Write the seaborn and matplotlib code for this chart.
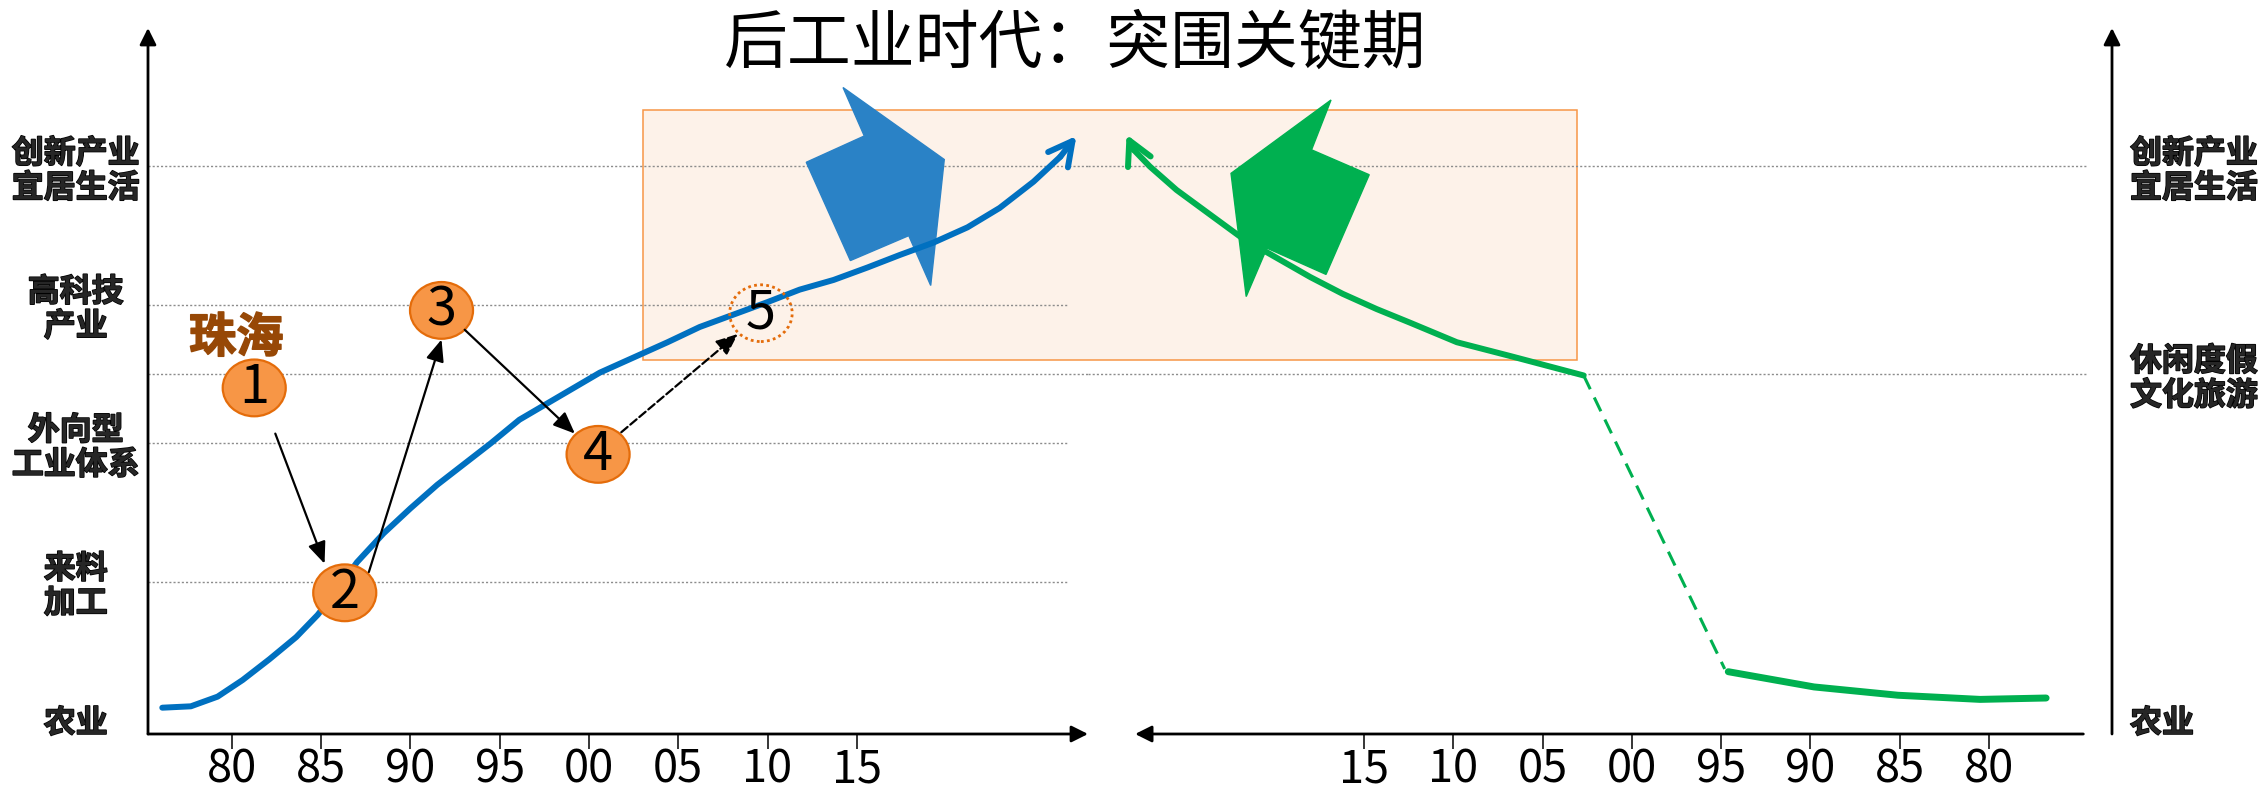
import numpy as np
import pandas as pd
import matplotlib
matplotlib.use('Agg')
import matplotlib.pyplot as plt
import matplotlib.patheffects as pe
import seaborn as sns
from matplotlib.patches import Ellipse, Rectangle

# ---- data ----
# 纵轴层级（左：珠海，右：对照城市）
left_levels = [0, 1, 2, 3, 4]
left_level_labels = ['农业', '来料\n加工', '外向型\n工业体系', '高科技\n产业', '创新产业\n宜居生活']
right_levels = [0, 2.5, 4]
right_level_labels = ['农业', '休闲度假\n文化旅游', '创新产业\n宜居生活']

left_years = [1980, 1985, 1990, 1995, 2000, 2005, 2010, 2015]
right_years = [2015, 2010, 2005, 2000, 1995, 1990, 1985, 1980]
year_labels = ['80', '85', '90', '95', '00', '05', '10', '15']
right_year_labels = ['15', '10', '05', '00', '95', '90', '85', '80']

# 蓝色曲线（珠海）
blue_years = [1976.1, 1977.7, 1979.2, 1980.6, 1982.1, 1983.6, 1984.8, 1985.9, 1987.0, 1988.5,
              1990.0, 1991.5, 1992.9, 1994.5, 1996.1, 2000.6, 2002.5, 2004.4, 2006.2, 2008.1,
              2010.0, 2011.8, 2013.7, 2015.6, 2017.4, 2019.3, 2021.2, 2023.0, 2024.9, 2026.4, 2027.3]
blue_levels = [0.09, 0.10, 0.17, 0.29, 0.44, 0.60, 0.76, 0.94, 1.14, 1.35,
               1.53, 1.70, 1.84, 2.00, 2.17, 2.51, 2.62, 2.73, 2.84, 2.93,
               3.02, 3.11, 3.18, 3.27, 3.36, 3.45, 3.56, 3.70, 3.89, 4.07, 4.22]

# 绿色曲线（右侧，年份向左递增）
green_years = [2028.3, 2027.9, 2027.0, 2025.5, 2023.6, 2021.8, 2019.9, 2018.0, 2016.2,
               2014.3, 2012.4, 2009.8, 2006.8, 2002.7]
green_levels = [4.23, 4.12, 4.00, 3.83, 3.65, 3.48, 3.34, 3.20, 3.08,
                2.97, 2.87, 2.73, 2.63, 2.49]
green_gap_years = [2002.7, 1994.8]
green_gap_levels = [2.49, 0.37]
green_low_years = [1994.6, 1989.8, 1985.1, 1980.5, 1976.8]
green_low_levels = [0.35, 0.24, 0.18, 0.15, 0.16]

# 阶段圆圈 1-5
stage_nums = ['1', '2', '3', '4', '5']
stage_years = [1981.25, 1986.32, 1991.74, 2000.51, 2009.63]
stage_levels = [2.40, 0.92, 2.96, 1.92, 2.94]

# 阶段之间的箭头 (起点年份, 起点层级, 终点年份, 终点层级)
step_from_years = [1982.43, 1987.67, 1993.04, 2001.81]
step_from_levels = [2.07, 1.07, 2.82, 2.08]
step_to_years = [1985.19, 1991.74, 1999.21, 2008.34]
step_to_levels = [1.13, 2.75, 2.07, 2.79]

# 大箭头形状
blue_shape_years = [2014.23, 2019.90, 2019.14, 2017.91, 2014.64, 2012.17, 2015.42]
blue_shape_levels = [4.57, 4.05, 3.14, 3.50, 3.32, 4.03, 4.22]
green_shape_years = [2016.85, 2017.94, 2014.71, 2017.13, 2020.44, 2021.60, 2022.45]
green_shape_levels = [4.48, 4.12, 3.94, 3.22, 3.41, 3.06, 3.95]

# 突围关键期区域
box_start_left = 2003.0
box_end_right = 2003.1
box_low, box_high = 2.60, 4.41

# ---- style ----
sns.set_theme(style='white')
plt.rcParams['font.family'] = ['Noto Sans CJK SC', 'DejaVu Sans']
DIGITS = ['Liberation Sans Narrow', 'Noto Sans CJK SC']

BLUE = '#0070C0'
GREEN = '#00B050'
ORANGE = '#F79646'
ORANGE_DARK = '#E46C0A'
GRID = '#8C8C8C'

W, H = 2262, 796
fig = plt.figure(figsize=(W / 100, H / 100), dpi=100)


def box(x0, x1, yt, yb):
    return [x0 / W, 1 - yb / H, (x1 - x0) / W, (yb - yt) / H]


def heavy(color):
    return [pe.withStroke(linewidth=1.1, foreground=color)]


ax1 = fig.add_axes(box(148, 1088, 28, 734))
ax2 = fig.add_axes(box(1088, 2112, 28, 734))
for ax in (ax1, ax2):
    ax.set_facecolor('none')
    ax.set_ylim(-0.1, 5.0)
    for s in ax.spines.values():
        s.set_visible(False)
ax1.set_xlim(1975.3, 2027.95)
ax2.set_xlim(2030.46, 1973.11)

# axes with arrows
arr = dict(arrowstyle='-|>,head_length=0.5,head_width=0.25', color='black', lw=2,
           shrinkA=0, shrinkB=0, mutation_scale=20)
ax1.annotate('', xy=(0, 1), xytext=(0, 0), xycoords='axes fraction', arrowprops=arr)
ax1.annotate('', xy=(1, 0), xytext=(0, 0), xycoords='axes fraction', arrowprops=arr)
ax2.annotate('', xy=(1, 1), xytext=(1, 0), xycoords='axes fraction', arrowprops=arr)
ax2.annotate('', xy=(0.046, 0), xytext=(0.972, 0), xycoords='axes fraction', arrowprops=arr)

# ticks
ax1.set_xticks(left_years, labels=year_labels)
ax2.set_xticks(right_years, labels=right_year_labels)
for ax in (ax1, ax2):
    ax.tick_params(axis='x', bottom=True, direction='out', length=10.8, width=1.1,
                   color='black', pad=-1.5, labelsize=32.5, labelcolor='black')
    plt.setp(ax.get_xticklabels(), family=DIGITS)

ax1.set_yticks(left_levels, labels=left_level_labels)
ax1.tick_params(axis='y', length=0, pad=52, labelsize=23)
plt.setp(ax1.get_yticklabels(), ha='center', fontweight='bold', linespacing=1.1,
         path_effects=heavy('black'))
ax2.yaxis.tick_right()
ax2.set_yticks(right_levels, labels=right_level_labels)
ax2.tick_params(axis='y', length=0, pad=13, labelsize=23)
plt.setp(ax2.get_yticklabels(), ha='left', fontweight='bold', linespacing=1.1,
         path_effects=heavy('black'))

# dotted guide lines
grid_kw = dict(color=GRID, lw=1, linestyle=(0, (1.5, 1.5)), zorder=1)
ax1.hlines([1, 2, 3], 1975.3, 2026.76, **grid_kw)
ax1.hlines([2.5, 4], 1975.3, 2027.95, **grid_kw)
ax2.hlines([2.5, 4], 2030.46, 1974.51, **grid_kw)

# highlight box spanning both panels
fig.canvas.draw()
x_right_disp = ax2.transData.transform((box_end_right, box_low))[0]
x_right_left = ax1.transData.inverted().transform((x_right_disp, box_low))[0]
ax1.add_patch(Rectangle((box_start_left, box_low), x_right_left - box_start_left, box_high - box_low,
                        facecolor='#FDF2E9', edgecolor=ORANGE, lw=1.1, zorder=0.5, clip_on=False))

# block arrows
ax1.fill(blue_shape_years, blue_shape_levels, color='#2A82C6', zorder=2, clip_on=False)
ax2.fill(green_shape_years, green_shape_levels, color=GREEN, zorder=2, clip_on=False)

# curves
blue_df = pd.DataFrame({'year': blue_years, 'level': blue_levels})
sns.lineplot(data=blue_df.iloc[:-1], x='year', y='level', sort=False, estimator=None,
             color=BLUE, lw=4.3, ax=ax1, zorder=3, solid_capstyle='round', solid_joinstyle='round')
ax1.annotate('', xy=(blue_years[-1], blue_levels[-1]), xytext=(blue_years[-2], blue_levels[-2]),
             arrowprops=dict(arrowstyle='->,head_length=0.85,head_width=0.45', color=BLUE, lw=4.3,
                             shrinkA=0, shrinkB=0, mutation_scale=20), zorder=3)

green_df = pd.DataFrame({'year': green_years, 'level': green_levels})
sns.lineplot(data=green_df.iloc[1:], x='year', y='level', sort=False, estimator=None,
             color=GREEN, lw=4.3, ax=ax2, zorder=3, solid_joinstyle='round')
ax2.annotate('', xy=(green_years[0], green_levels[0]), xytext=(green_years[1], green_levels[1]),
             arrowprops=dict(arrowstyle='->,head_length=0.85,head_width=0.45', color=GREEN, lw=4.3,
                             shrinkA=0, shrinkB=0, mutation_scale=20), zorder=3,
             annotation_clip=False)
sns.lineplot(x=green_gap_years, y=green_gap_levels, sort=False, estimator=None, color=GREEN,
             lw=2.2, linestyle=(0, (5, 3)), ax=ax2, zorder=3)
sns.lineplot(x=green_low_years, y=green_low_levels, sort=False, estimator=None, color=GREEN,
             lw=5, ax=ax2, zorder=3, solid_joinstyle='round')
for ax in (ax1, ax2):
    ax.set_xlabel('')
    ax.set_ylabel('')

# step arrows between stages
for i in range(len(step_from_years)):
    ls = '--' if i == 3 else '-'
    ax1.annotate('', xy=(step_to_years[i], step_to_levels[i]),
                 xytext=(step_from_years[i], step_from_levels[i]),
                 arrowprops=dict(arrowstyle='-|>,head_length=0.6,head_width=0.25', color='black',
                                 lw=1.6, linestyle=ls, shrinkA=0, shrinkB=0, mutation_scale=22),
                 zorder=6)

# stage circles
for n, yr, lv in zip(stage_nums, stage_years, stage_levels):
    if n == '5':
        ax1.add_patch(Ellipse((yr, lv), 3.5, 0.41, facecolor='none', edgecolor=ORANGE_DARK,
                              lw=2, linestyle=(0, (1, 1.2)), zorder=5))
    else:
        ax1.add_patch(Ellipse((yr, lv), 3.53, 0.41, facecolor=ORANGE, edgecolor=ORANGE_DARK,
                              lw=1.6, zorder=5))
    ax1.text(yr, lv, n, ha='center', va='center', fontsize=39, color='black', zorder=7,
             family=DIGITS)

ax1.text(1980.24, 2.76, '珠海', ha='center', va='center', fontsize=34, fontweight='bold',
         color='#974806', zorder=7, path_effects=heavy('#974806'))

fig.text(1075 / W, 1 - 45 / H, '后工业时代：突围关键期', ha='center', va='center',
         fontsize=46, color='black')

fig.savefig('out.png', dpi=100)
